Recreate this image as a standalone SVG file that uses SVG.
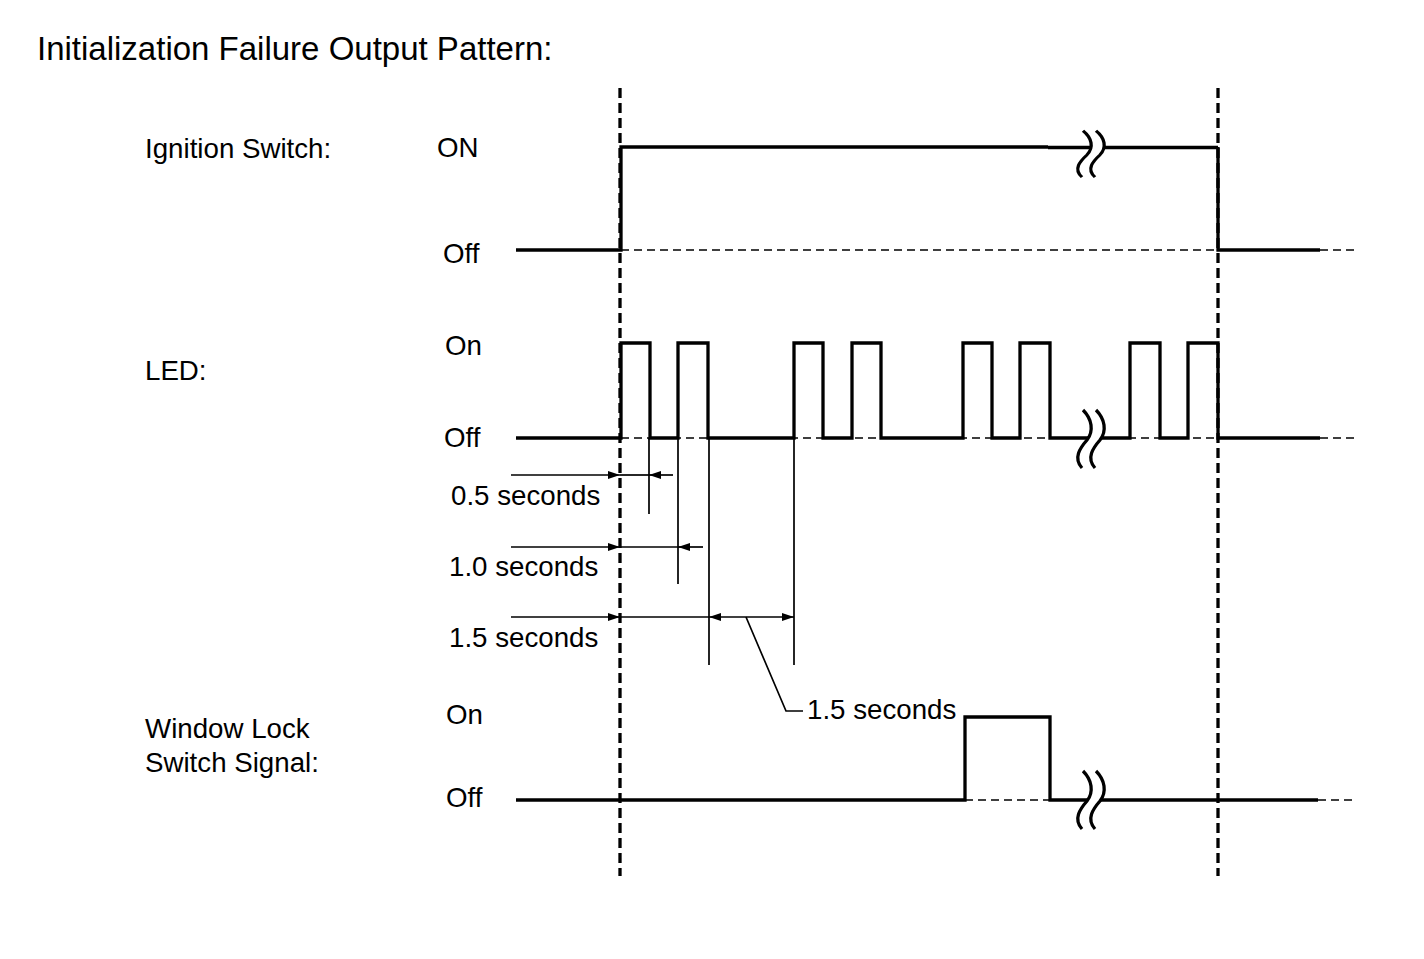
<svg xmlns="http://www.w3.org/2000/svg" width="1424" height="959" viewBox="0 0 1424 959">
<style>
text{font-family:"Liberation Sans",Arial,sans-serif;fill:#000}
.t{font-size:33px}
.l{font-size:27.7px}
.sig{fill:none;stroke:#000;stroke-width:3.3;stroke-linejoin:miter;stroke-linecap:butt}
.base{fill:none;stroke:#000;stroke-width:1.6;stroke-dasharray:8 5}
.vd{fill:none;stroke:#000;stroke-width:3.3;stroke-dasharray:10 5}
.dim{fill:none;stroke:#000;stroke-width:1.7}
.arr{marker-end:url(#ah)}
.bk{fill:none;stroke:#000;stroke-width:3.3}
</style>
<defs>
<marker id="ah" markerUnits="userSpaceOnUse" markerWidth="13" markerHeight="9" refX="12" refY="4" orient="auto">
<path d="M0,0 L12,4 L0,8 Z" fill="#000"/>
</marker>
<g id="brk">
<path d="M-1,-29 C8,-20 10,-8 3,1 C-4,9 -11,19 -2,29 L11,29 C2,19 9,9 16,1 C23,-8 21,-20 12,-29 Z" fill="#fff"/>
<path class="bk" d="M-1,-29 C8,-20 10,-8 3,1 C-4,9 -11,19 -2,29"/>
<path class="bk" d="M12,-29 C21,-20 23,-8 16,1 C9,9 2,19 11,29"/>
</g>
</defs>
<rect width="1424" height="959" fill="#fff"/>

<text class="t" x="37" y="60">Initialization Failure Output Pattern:</text>

<g id="ignition">
<text class="l" x="145" y="158">Ignition Switch:</text>
<text class="l" x="437" y="157">ON</text>
<text class="l" x="443" y="263">Off</text>
<path class="base" d="M621,250 H1218"/>
<path class="sig" d="M516,250 H621 V147 H1048"/>
<path class="sig" stroke-width="2.2" d="M1048,147.5 H1218"/>
<path class="sig" d="M1218,147 V250 H1320"/>
<path class="base" d="M1320,250 H1356"/>
<use href="#brk" transform="translate(1084,154) scale(1,0.8)"/>
</g>

<g id="led">
<text class="l" x="445" y="355">On</text>
<text class="l" x="145" y="380">LED:</text>
<text class="l" x="444" y="447">Off</text>
<path class="base" d="M621,438 H1218"/>
<path class="sig" d="M516,438 H621 V343 H650 V438 H678 V343 H708 V438 H794 V343 H823 V438 H852 V343 H881 V438 H963 V343 H992 V438 H1020 V343 H1050 V438 H1130 V343 H1160 V438 H1188 V343 H1218 V438 H1320"/>
<path class="base" d="M1320,438 H1356"/>
<use href="#brk" transform="translate(1084,439)"/>
</g>

<g id="window-lock">
<text class="l" x="145" y="738">Window Lock</text>
<text class="l" x="145" y="772">Switch Signal:</text>
<text class="l" x="446" y="724">On</text>
<text class="l" x="446" y="807">Off</text>
<path class="base" d="M965,800 H1050"/>
<path class="sig" d="M516,800 H965 V717 H1050 V800 H1318"/>
<path class="base" d="M1318,800 H1356"/>
<use href="#brk" transform="translate(1084,800)"/>
</g>

<g id="markers">
<path class="vd" d="M620,88 V876"/>
<path class="vd" d="M1218,88 V876"/>
</g>

<g id="dimensions">
<path class="dim" d="M649,438 V514 M678,438 V584 M709,438 V665 M794,438 V665"/>
<path class="dim arr" d="M511,475 H620"/>
<path class="dim" d="M620,475 H649"/>
<path class="dim arr" d="M673,475 H649"/>
<text class="l" x="451" y="505">0.5 seconds</text>
<path class="dim arr" d="M511,547 H620"/>
<path class="dim" d="M620,547 H678"/>
<path class="dim arr" d="M703,547 H678"/>
<text class="l" x="449" y="576">1.0 seconds</text>
<path class="dim arr" d="M511,617 H620"/>
<path class="dim" d="M620,617 H709"/>
<path class="dim arr" d="M746,617 H709"/>
<path class="dim arr" d="M746,617 H794"/>
<text class="l" x="449" y="647">1.5 seconds</text>
<path class="dim" stroke-width="2.4" d="M746,617 L786,711 H803"/>
<text class="l" x="807" y="719">1.5 seconds</text>
</g>
</svg>
